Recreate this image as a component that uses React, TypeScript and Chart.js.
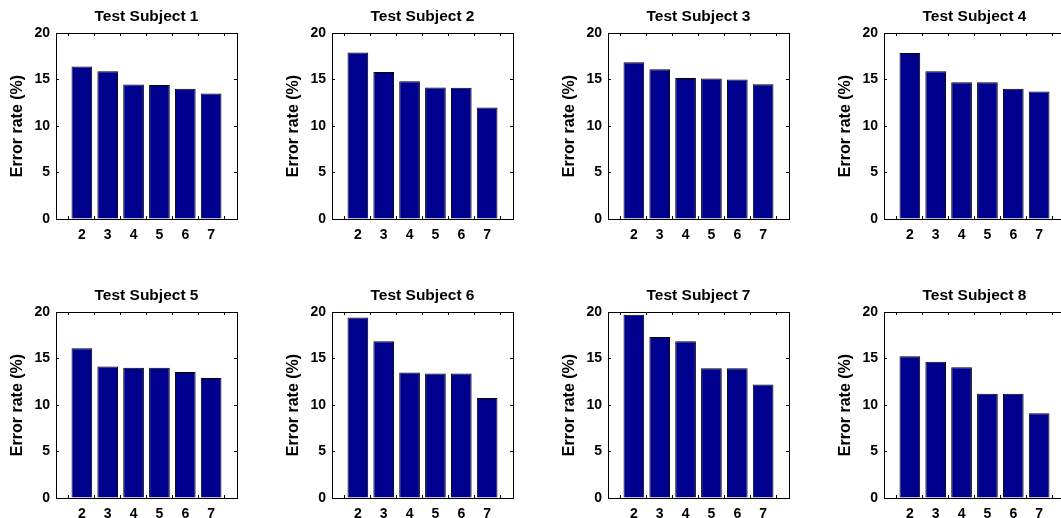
import { useEffect, useRef } from 'react';
import { Chart, registerables } from 'chart.js';

Chart.register(...registerables);

const FONT = '"Liberation Sans", Arial, Helvetica, sans-serif';

// number of clusters on the x axis
const clusters = [2, 3, 4, 5, 6, 7];
const yTicks = [0, 5, 10, 15, 20];

const subject1 = [16.4, 15.9, 14.45, 14.4, 14.0, 13.5];
const subject2 = [17.9, 15.8, 14.8, 14.15, 14.1, 12.0];
const subject3 = [16.85, 16.1, 15.15, 15.1, 15.0, 14.5];
const subject4 = [17.85, 15.9, 14.7, 14.7, 14.0, 13.7];
const subject5 = [16.1, 14.15, 14.0, 14.0, 13.55, 12.9];
const subject6 = [19.4, 16.85, 13.5, 13.4, 13.4, 10.75];
const subject7 = [19.7, 17.3, 16.85, 13.95, 13.95, 12.2];
const subject8 = [15.25, 14.65, 14.05, 11.2, 11.2, 9.1];

const titles = [
  'Test Subject 1', 'Test Subject 2', 'Test Subject 3', 'Test Subject 4',
  'Test Subject 5', 'Test Subject 6', 'Test Subject 7', 'Test Subject 8',
];
const series = [subject1, subject2, subject3, subject4, subject5, subject6, subject7, subject8];

const CELL_W = 276;
const CELL_H = 259;
const ROW_STEP = 279;

const setXTicks = (s: any) => { s.ticks = clusters.map(v => ({ value: v })); };
const setYTicks = (s: any) => { s.ticks = yTicks.map(v => ({ value: v })); };

const inwardGrid = { drawOnChartArea: false, tickLength: -3, color: '#000', tickColor: '#000', lineWidth: 1 };
const blackBorder = { display: true, color: '#000', width: 1 };

function SubPlot({ title, values, left, top }: { title: string; values: number[]; left: number; top: number }) {
  const canvasRef = useRef<HTMLCanvasElement>(null);

  useEffect(() => {
    if (!canvasRef.current) return;
    const chart = new Chart(canvasRef.current, {
      type: 'bar',
      data: {
        datasets: [{
          data: clusters.map((c, i) => ({ x: c, y: values[i] })),
          backgroundColor: 'rgb(0,0,143)',
          borderColor: '#000',
          borderWidth: 1,
          barPercentage: 0.8,
          categoryPercentage: 1,
        }],
      },
      options: {
        responsive: false,
        animation: false,
        layout: { padding: { left: 0, top: 0, right: 39, bottom: 0 } },
        plugins: { legend: { display: false }, tooltip: { enabled: false }, title: { display: false } },
        scales: {
          x: {
            type: 'linear', position: 'bottom', min: 1, max: 8, offset: false,
            afterBuildTicks: setXTicks,
            afterFit: (s: any) => { s.height = 40; },
            grid: inwardGrid, border: blackBorder,
            ticks: { color: '#000', padding: 11, maxRotation: 0, font: { family: FONT, size: 14, weight: 'bold' } },
          },
          x2: {
            type: 'linear', position: 'top', min: 1, max: 8, offset: false,
            afterBuildTicks: setXTicks,
            afterFit: (s: any) => { s.height = 33; },
            grid: inwardGrid, border: blackBorder,
            ticks: { display: false },
            title: {
              display: true, text: title, color: '#000',
              padding: { top: 7, bottom: 0 },
              font: { family: FONT, size: 15.5, weight: 'bold' },
            },
          },
          y: {
            type: 'linear', position: 'left', min: 0, max: 20,
            afterBuildTicks: setYTicks,
            afterFit: (s: any) => { s.width = 56; },
            grid: inwardGrid, border: blackBorder,
            ticks: { color: '#000', padding: 9, font: { family: FONT, size: 14, weight: 'bold' } },
            title: {
              display: true, text: 'Error rate (%)', color: '#000',
              padding: { top: 7.5, bottom: 0 },
              font: { family: FONT, size: 16, weight: 'bold' },
            },
          },
          y2: {
            type: 'linear', position: 'right', min: 0, max: 20,
            afterBuildTicks: setYTicks,
            afterFit: (s: any) => { s.width = 0; },
            grid: inwardGrid, border: blackBorder,
            ticks: { display: false },
          },
        },
      } as any,
    });
    return () => chart.destroy();
  }, [title, values]);

  return (
    <div style={{ position: 'absolute', left, top, width: CELL_W, height: CELL_H }}>
      <canvas ref={canvasRef} width={CELL_W} height={CELL_H} style={{ width: CELL_W, height: CELL_H }} />
    </div>
  );
}

export default function App() {
  return (
    <div style={{ position: 'fixed', left: 0, top: 0, width: 1061, height: 518, overflow: 'hidden', background: '#fff' }}>
      {series.map((vals, i) => (
        <SubPlot
          key={titles[i]}
          title={titles[i]}
          values={vals}
          left={(i % 4) * CELL_W}
          top={Math.floor(i / 4) * ROW_STEP}
        />
      ))}
    </div>
  );
}
